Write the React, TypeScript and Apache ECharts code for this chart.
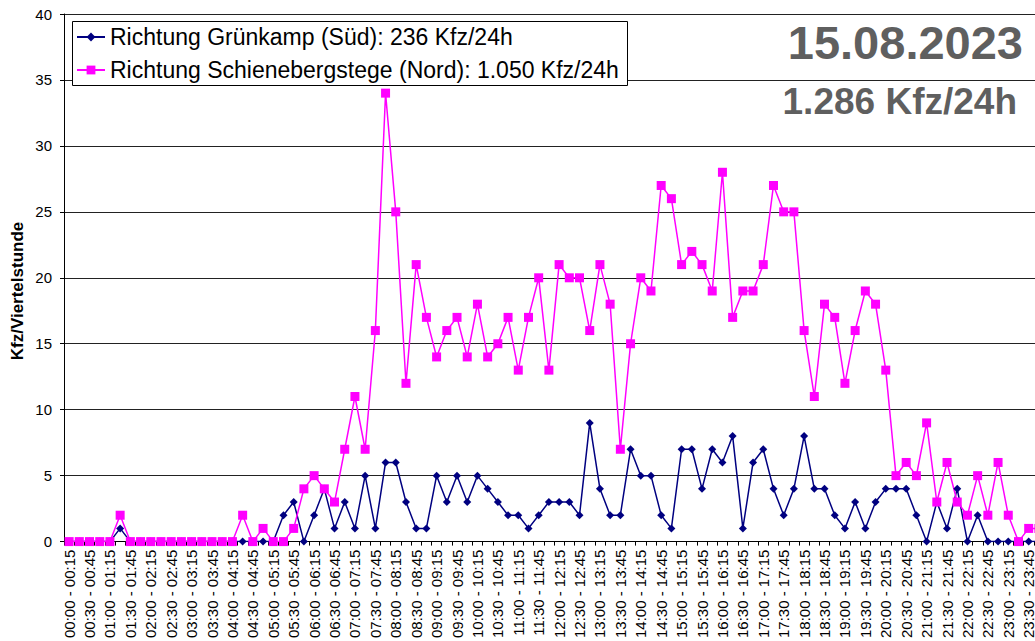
import React, { useEffect, useRef } from 'react';
import * as echarts from 'echarts';

// Quarter-hour categories "00:00 - 00:15" ... "23:45 - 24:00"
const pad = (n: number) => (n < 10 ? '0' + n : '' + n);
const categories: string[] = [];
for (let q = 0; q < 96; q++) {
  const s = q * 15;
  const e = s + 15;
  categories.push(
    `${pad(Math.floor(s / 60))}:${pad(s % 60)} - ${pad(Math.floor(e / 60))}:${pad(e % 60)}`
  );
}

const seriesNames = [
  'Richtung Grünkamp (Süd): 236 Kfz/24h',
  'Richtung Schienebergstege (Nord): 1.050 Kfz/24h',
];

// Richtung Grünkamp (Süd)
const suedValues = [
  0, 0, 0, 0, 0, 1, 0, 0, 0, 0,
  0, 0, 0, 0, 0, 0, 0, 0, 0, 0,
  0, 2, 3, 0, 2, 4, 1, 3, 1, 5,
  1, 6, 6, 3, 1, 1, 5, 3, 5, 3,
  5, 4, 3, 2, 2, 1, 2, 3, 3, 3,
  2, 9, 4, 2, 2, 7, 5, 5, 2, 1,
  7, 7, 4, 7, 6, 8, 1, 6, 7, 4,
  2, 4, 8, 4, 4, 2, 1, 3, 1, 3,
  4, 4, 4, 2, 0, 3, 1, 4, 0, 2,
  0, 0, 0, 0, 0, 0,
];

// Richtung Schienebergstege (Nord)
const nordValues = [
  0, 0, 0, 0, 0, 2, 0, 0, 0, 0,
  0, 0, 0, 0, 0, 0, 0, 2, 0, 1,
  0, 0, 1, 4, 5, 4, 3, 7, 11, 7,
  16, 34, 25, 12, 21, 17, 14, 16, 17, 14,
  18, 14, 15, 17, 13, 17, 20, 13, 21, 20,
  20, 16, 21, 18, 7, 15, 20, 19, 27, 26,
  21, 22, 21, 19, 28, 17, 19, 19, 21, 27,
  25, 25, 16, 11, 18, 17, 12, 16, 19, 18,
  13, 5, 6, 5, 9, 3, 6, 3, 2, 5,
  2, 6, 2, 0, 1, 1,
];

const yMin = 0;
const yMax = 40;
const yStep = 5;

const dateTitle = '15.08.2023';
const totalTitle = '1.286 Kfz/24h';
const yAxisTitle = 'Kfz/Viertelstunde';

const FONT = '"Liberation Sans", Arial, sans-serif';

export default function App() {
  const ref = useRef<HTMLDivElement>(null);

  useEffect(() => {
    if (!ref.current) return;
    const chart = echarts.init(ref.current, undefined, { renderer: 'svg' });
    chart.setOption({
      animation: false,
      backgroundColor: '#fff',
      textStyle: { fontFamily: FONT },
      grid: { left: 64, top: 14, right: 1, height: 529, containLabel: false },
      legend: {
        orient: 'vertical',
        left: 76,
        top: 25,
        padding: 0,
        itemGap: 9,
        itemWidth: 28,
        itemHeight: 11,
        z: 10,
        textStyle: { fontSize: 23, color: '#000', lineHeight: 24, fontFamily: FONT },
        data: seriesNames,
      },
      graphic: [
        {
          type: 'rect',
          z: 5,
          shape: { x: 72.5, y: 21.5, width: 555, height: 64 },
          style: { fill: '#fff', stroke: '#000', lineWidth: 1 },
        },
        {
          type: 'text',
          z: 5,
          x: 1023,
          y: 42,
          style: {
            text: dateTitle,
            fontSize: 47,
            fontWeight: 'bold',
            fontFamily: FONT,
            fill: '#5f5f5f',
            align: 'right',
            verticalAlign: 'middle',
          },
        },
        {
          type: 'text',
          z: 5,
          x: 1017,
          y: 101,
          style: {
            text: totalTitle,
            fontSize: 37,
            fontWeight: 'bold',
            fontFamily: FONT,
            fill: '#5f5f5f',
            align: 'right',
            verticalAlign: 'middle',
          },
        },
        {
          type: 'text',
          z: 5,
          x: 17,
          y: 291,
          rotation: Math.PI / 2,
          style: {
            text: yAxisTitle,
            fontSize: 17,
            fontWeight: 'bold',
            fontFamily: FONT,
            fill: '#000',
            align: 'center',
            verticalAlign: 'middle',
          },
        },
      ],
      xAxis: {
        type: 'category',
        data: categories,
        boundaryGap: true,
        axisLine: { show: true, lineStyle: { color: '#000', width: 1 } },
        axisTick: { show: true, interval: 0, length: 4, lineStyle: { color: '#000' } },
        axisLabel: {
          interval: 1,
          rotate: 90,
          fontSize: 15,
          color: '#000',
          margin: 8,
          fontFamily: FONT,
        },
        splitLine: { show: false },
      },
      yAxis: {
        type: 'value',
        min: yMin,
        max: yMax,
        interval: yStep,
        axisLine: { show: true, lineStyle: { color: '#000', width: 1 } },
        axisTick: { show: true, length: 4, lineStyle: { color: '#000' } },
        axisLabel: { fontSize: 15, color: '#000', margin: 12, fontFamily: FONT },
        splitLine: { show: true, lineStyle: { color: '#222', width: 1 } },
      },
      series: [
        {
          name: seriesNames[0],
          type: 'line',
          data: suedValues,
          symbol: 'diamond',
          symbolSize: 8,
          showAllSymbol: true,
          itemStyle: { color: '#000080' },
          lineStyle: { color: '#000080', width: 1.5 },
        },
        {
          name: seriesNames[1],
          type: 'line',
          data: nordValues,
          symbol: 'rect',
          symbolSize: 9,
          showAllSymbol: true,
          itemStyle: { color: '#ff00ff' },
          lineStyle: { color: '#ff00ff', width: 1.5 },
        },
      ],
    });
    return () => chart.dispose();
  }, []);

  return (
    <div
      style={{
        position: 'absolute',
        left: 0,
        top: 0,
        width: 1035,
        height: 641,
        overflow: 'hidden',
        background: '#fff',
      }}
    >
      <div ref={ref} style={{ width: 1045, height: 641 }} />
    </div>
  );
}
